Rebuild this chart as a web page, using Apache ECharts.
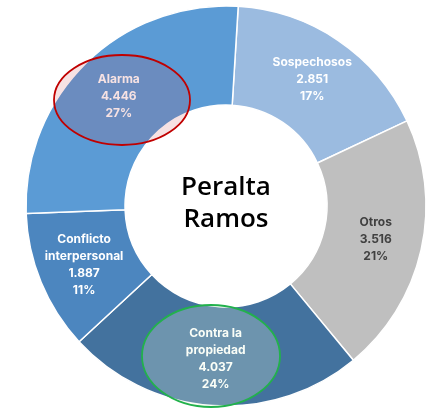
<!DOCTYPE html>
<html>
<head>
<meta charset="utf-8">
<script src="https://cdn.jsdelivr.net/npm/echarts@6/dist/echarts.min.js"></script>
<style>
  html, body { margin: 0; padding: 0; background: #fff; }
  #main { width: 430px; height: 409px; }
</style>
</head>
<body>
<div id="main"></div>
<script>
// datos por categoría (sentido horario desde arriba)
var categorias = ['Sospechosos', 'Otros', 'Contra la\npropiedad', 'Conflicto\ninterpersonal', 'Alarma'];
var valores = [2851, 3516, 4037, 1887, 4446];
var etiquetasValor = ['2.851', '3.516', '4.037', '1.887', '4.446'];
var porcentajes = ['17%', '21%', '24%', '11%', '27%'];
var colores = ['#9BBBE0', '#BFBFBF', '#43729E', '#4C86BF', '#5B9BD5'];
var titulo = 'Peralta\nRamos';

var myChart = echarts.init(document.getElementById('main'));

var datos = [];
for (var i = 0; i < categorias.length; i++) {
  datos.push({
    name: categorias[i],
    value: valores[i],
    itemStyle: { color: colores[i] },
    label: { color: i == 1 ? '#404040' : '#ffffff' }
  });
}

myChart.setOption({
  animation: false,
  series: [{
    type: 'pie',
    center: [226, 206],
    radius: [101, 200],
    startAngle: 86.5,
    clockwise: true,
    itemStyle: {
      borderColor: '#ffffff',
      borderWidth: 1.5
    },
    label: {
      show: true,
      position: 'inside',
      fontFamily: 'Inter',
      fontWeight: 'bold',
      fontSize: 12,
      lineHeight: 17,
      align: 'center',
      formatter: function (p) {
        return p.name + '\n' + etiquetasValor[p.dataIndex] + '\n' + porcentajes[p.dataIndex];
      }
    },
    labelLine: { show: false },
    emphasis: { disabled: true },
    data: datos
  }],
  graphic: [
    {
      type: 'text',
      left: 226 - 45,
      top: 172,
      style: {
        text: titulo,
        font: '600 26px "Open Sans"',
        fill: '#000',
        textAlign: 'center',
        lineHeight: 32,
        width: 90
      },
      z: 10
    },
    {
      type: 'ellipse',
      shape: { cx: 122, cy: 100, rx: 68, ry: 45 },
      style: { fill: 'rgba(200,60,70,0.15)', stroke: '#C00000', lineWidth: 1.8 },
      z: 20
    },
    {
      type: 'ellipse',
      shape: { cx: 211, cy: 356, rx: 69, ry: 51 },
      style: { fill: 'rgba(235,250,225,0.25)', stroke: '#22B14C', lineWidth: 1.8 },
      z: 20
    }
  ]
});
</script>
</body>
</html>
